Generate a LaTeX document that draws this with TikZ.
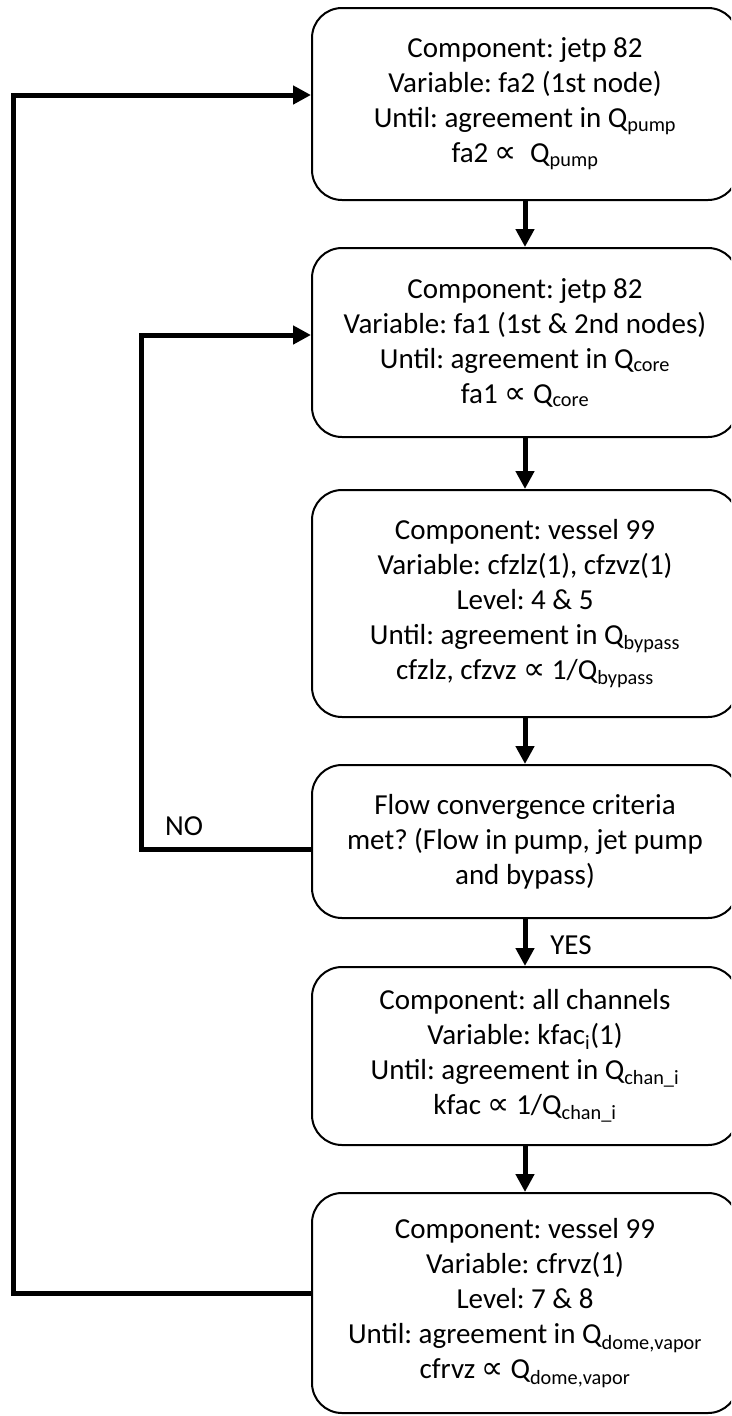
\documentclass[tikz,border=0pt]{standalone}
\usepackage{fontspec}
\setmainfont{Carlito}
\newfontfamily\symfont{DejaVu Sans}
\newcommand{\prop}{{\fontsize{31}{35}\symfont ∝}}
\usetikzlibrary{arrows.meta}
\frenchspacing
\begin{document}
\begin{tikzpicture}[x=1pt,y=-1pt,
  box/.style={draw, line width=2pt, rounded corners=30pt, minimum width=426pt,
    align=center, inner sep=0pt, font=\fontsize{29}{35}\selectfont},
  flow/.style={line width=5pt, -{Triangle[length=18pt,width=18pt]}},
  fb/.style={line width=5pt, line join=miter, -{Triangle[length=18pt,width=18pt]}},
  lbl/.style={font=\fontsize{29}{35}\selectfont, inner sep=0pt}]
\useasboundingbox (0,0) rectangle (731,1416);
\clip (0,0) rectangle (731,1416);
\node[box, minimum height=192pt] (b1) at (525,104)
  {Component: jetp 82\\ Variable: fa2 (1st node)\\ Until: agreement in Q\textsubscript{pump}\\ fa2 \prop\ \ Q\textsubscript{pump}};
\node[box, minimum height=189pt] (b2) at (525,342.5)
  {Component: jetp 82\\ Variable: fa1 (1st \& 2nd nodes)\\ Until: agreement in Q\textsubscript{core}\\ fa1 \prop\ Q\textsubscript{core}};
\node[box, minimum height=227pt] (b3) at (525,603.5)
  {Component: vessel 99\\ Variable: cfzlz(1), cfzvz(1)\\ Level: 4 \& 5\\ Until: agreement in Q\textsubscript{bypass}\\ cfzlz, cfzvz \prop\ 1/Q\textsubscript{bypass}};
\node[box, minimum height=153pt] (b4) at (525,841.5)
  {Flow convergence criteria\\ met? (Flow in pump, jet pump\\ and bypass)};
\node[box, minimum height=178pt] (b5) at (525,1056)
  {Component: all channels\\ Variable: kfac\textsubscript{i}(1)\\ Until: agreement in Q\textsubscript{chan\_i}\\ kfac \prop\ 1/Q\textsubscript{chan\_i}};
\node[box, minimum height=220pt] (b6) at (525,1303)
  {Component: vessel 99\\ Variable: cfrvz(1)\\ Level: 7 \& 8\\ Until: agreement in Q\textsubscript{dome,vapor}\\ cfrvz \prop\ Q\textsubscript{dome,vapor}};
\draw[flow] (b1.south) -- (b2.north);
\draw[flow] (b2.south) -- (b3.north);
\draw[flow] (b3.south) -- (b4.north);
\draw[flow] (b4.south) -- (b5.north);
\draw[flow] (b5.south) -- (b6.north);
\draw[fb] ([yshift=-7.5pt]b4.west) -- ++(-170,0) |- ([yshift=7.5pt]b2.west);
\draw[fb] ([yshift=10pt]b6.west) -- ++(-298,0) |- ([yshift=9pt]b1.west);
\node[lbl] (no) at (184,826) {NO};
\node[lbl] (yes) at (571,945) {YES};
\end{tikzpicture}
\end{document}
